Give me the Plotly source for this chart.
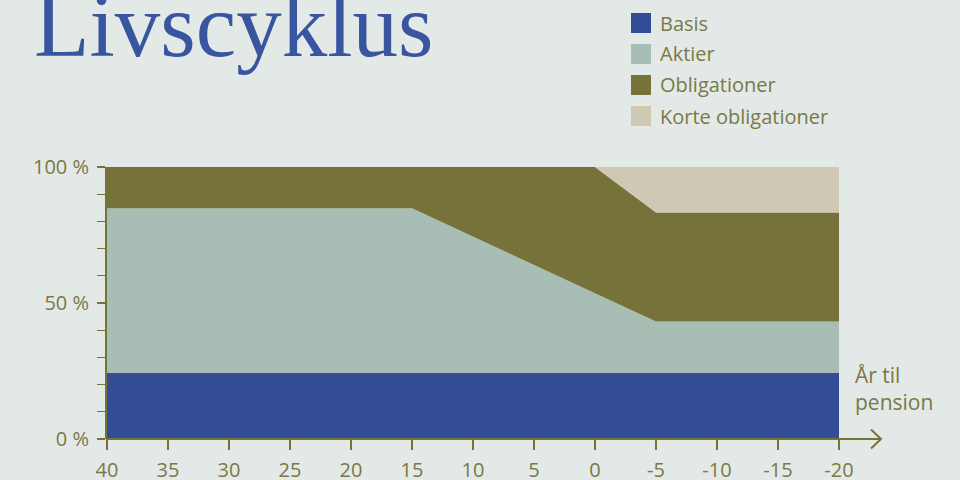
import plotly.graph_objects as go

# ---- data ----
years = [40, 15, 0, -5, -20]
series_names = ["Basis", "Aktier", "Obligationer", "Korte obligationer"]
basis = [24.3, 24.3, 24.3, 24.3, 24.3]
aktier = [60.5, 60.5, 29.3, 18.9, 18.9]
obligationer = [15.2, 15.2, 46.4, 40.1, 40.1]
korte = [0, 0, 0, 16.7, 16.7]
x_tickvals = [40, 35, 30, 25, 20, 15, 10, 5, 0, -5, -10, -15, -20]
x_ticktext = ["40", "35", "30", "25", "20", "15", "10", "5", "0", "-5", "-10", "-15", "-20"]
y_tickvals = [0, 50, 100]
y_ticktext = ["0 %", "50 %", "100 %"]

colors = ["#334d96", "#a8bdb4", "#76733a", "#cfc9b4"]
BG = "#e3e9e6"
OLIVE = "#76733a"
TXT = "#7b7846"
FONT = "Open Sans"

# plot area in pixels
L, R, T, B = 107, 839, 167, 439
def px(x):
    return (x - L) / (R - L)
def py(y):
    return (B - y) / (B - T)

fig = go.Figure()
for name, vals, col in zip(series_names, [basis, aktier, obligationer, korte], colors):
    fig.add_trace(go.Scatter(
        x=years, y=vals, name=name, mode="lines", stackgroup="one",
        line=dict(width=0, color=col), fillcolor=col, showlegend=False,
        hoverinfo="skip",
    ))

shapes = []
annotations = []

# custom legend
leg_y = [23, 54, 85, 116]
for name, col, yc in zip(series_names, colors, leg_y):
    shapes.append(dict(type="rect", xref="paper", yref="paper",
                       x0=px(631), x1=px(651), y0=py(yc + 10), y1=py(yc - 10),
                       fillcolor=col, line=dict(width=0)))
    annotations.append(dict(xref="paper", yref="paper", x=px(658), y=py(yc),
                            xanchor="left", yanchor="middle", showarrow=False,
                            text=name, font=dict(family=FONT, size=20, color=TXT)))

# x axis line with arrow
shapes.append(dict(type="line", xref="paper", yref="paper",
                   x0=px(106), x1=px(881), y0=py(439), y1=py(439),
                   line=dict(color=OLIVE, width=2)))
shapes.append(dict(type="path", xref="paper", yref="paper",
                   path=f"M {px(871)} {py(429.5)} L {px(881)} {py(439)} L {px(871)} {py(448.5)}",
                   line=dict(color=OLIVE, width=2)))

# title
annotations.append(dict(xref="paper", yref="paper", x=px(32), y=py(25),
                        xanchor="left", yanchor="middle", showarrow=False,
                        text="Livscyklus",
                        font=dict(family="Liberation Serif", size=91, color="#3a55a0")))
# axis title
annotations.append(dict(xref="paper", yref="paper", x=px(853), y=py(388),
                        xanchor="left", yanchor="middle", showarrow=False, align="left",
                        text="År til<br>pension",
                        font=dict(family=FONT, size=21, color=TXT)))

fig.update_layout(
    width=960, height=480,
    margin=dict(l=L, r=960 - R, t=T, b=480 - B, autoexpand=False),
    paper_bgcolor=BG, plot_bgcolor=BG,
    shapes=shapes, annotations=annotations,
    showlegend=False,
    xaxis=dict(range=[40, -20], tickvals=x_tickvals, ticktext=x_ticktext,
               automargin=False,
               showgrid=False, zeroline=False, showline=False,
               ticks="outside", ticklen=10, tickwidth=2, tickcolor=OLIVE,
               ticklabelstandoff=3,
               tickfont=dict(family=FONT, size=20, color=TXT)),
    yaxis=dict(range=[0, 100], tickvals=y_tickvals, ticktext=y_ticktext,
               automargin=False,
               showgrid=False, zeroline=False, showline=True, linecolor=OLIVE, linewidth=2,
               ticks="outside", ticklen=8, tickwidth=2, tickcolor=OLIVE,
               ticklabelstandoff=4,
               minor=dict(dtick=10, ticks="outside", ticklen=8, tickwidth=1, tickcolor=OLIVE),
               tickfont=dict(family=FONT, size=20, color=TXT)),
)

fig.write_html("out.html", config={"displayModeBar": False},
               post_script="document.body.style.margin='0';document.body.style.overflow='hidden';")
